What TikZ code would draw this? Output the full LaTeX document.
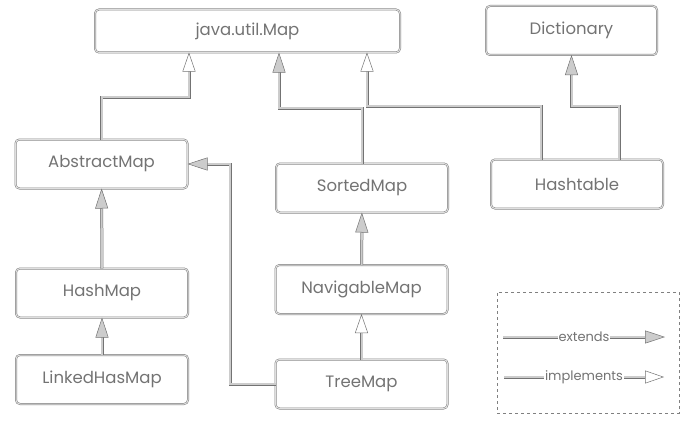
\documentclass[tikz,border=0pt]{standalone}
\usepackage{fontspec}
\setmainfont{Poppins}
\usetikzlibrary{arrows.meta}
\definecolor{edgegray}{gray}{0.45}
\definecolor{coregray}{gray}{0.8}
\definecolor{boxgray}{gray}{0.5}
\definecolor{textgray}{gray}{0.45}
\tikzset{
  cls/.style={draw=boxgray, double=gray!25, double distance=1pt, line width=0.5pt,
    rounded corners=4pt, minimum width=172pt, minimum height=49pt, outer sep=0pt,
    font=\fontsize{16.5}{18}\selectfont, text=textgray},
  link/.style={draw=edgegray, double=coregray, double distance=2pt, line width=0.5pt},
  ext/.style={link, -{Triangle[length=20pt,width=13pt,fill=coregray,line width=0.5pt]}},
  impl/.style={link, -{Triangle[length=19pt,width=13pt,fill=white,line width=0.5pt]}},
  legendtext/.style={fill=white, inner sep=1pt, text=textgray, font=\fontsize{13}{14}\selectfont}
}
\begin{document}
\begin{tikzpicture}[x=1pt,y=-1pt]
\useasboundingbox (0,0) rectangle (693,428);

\node[cls, minimum width=305pt, minimum height=43pt] (map) at (247.5,31) {java.util.Map};
\node[cls, minimum width=171pt] (dict) at (571.5,30.5) {Dictionary};
\node[cls] (abs) at (101.5,164) {AbstractMap};
\node[cls] (sorted) at (362,188) {SortedMap};
\node[cls] (htab) at (577,184) {Hashtable};
\node[cls] (hmap) at (102,293) {HashMap};
\node[cls] (lhm) at (102,379.5) {LinkedHasMap};
\node[cls] (nav) at (361.5,289.5) {NavigableMap};
\node[cls] (tree) at (361.5,384) {TreeMap};

% bends
\coordinate (c1) at (189,97);
\coordinate (c2) at (279,108);
\coordinate (c3) at (367,106);
\coordinate (c4) at (571.5,106);
\coordinate (c5) at (230,164);

\draw[impl] (abs.north) |- (c1) -- (c1 |- map.south);
\draw[ext] (sorted.north) |- (c2) -- (c2 |- map.south);
\draw[impl] ([xshift=-36pt]htab.north) |- (c3) -- (c3 |- map.south);
\draw[ext] ([xshift=42pt]htab.north) |- (c4) -- (dict.south);
\draw[ext] (hmap) -- (abs);
\draw[ext] (lhm) -- (hmap);
\draw[ext] (nav) -- (sorted);
\draw[impl] (tree) -- (nav);
\draw[ext] (tree.west) -| (c5) -- (abs.east);

% legend
\node[draw=gray, dashed, minimum width=182pt, minimum height=121pt] (legend) at (588,352.5) {};
\coordinate (e1) at (503,337);
\coordinate (e2) at (665,337);
\coordinate (i1) at (504,377);
\coordinate (i2) at (664,377);
\draw[ext] (e1) -- node[legendtext] (extlabel) {extends} (e2);
\draw[impl] (i1) -- node[legendtext] (impllabel) {implements} (i2);
\end{tikzpicture}
\end{document}
